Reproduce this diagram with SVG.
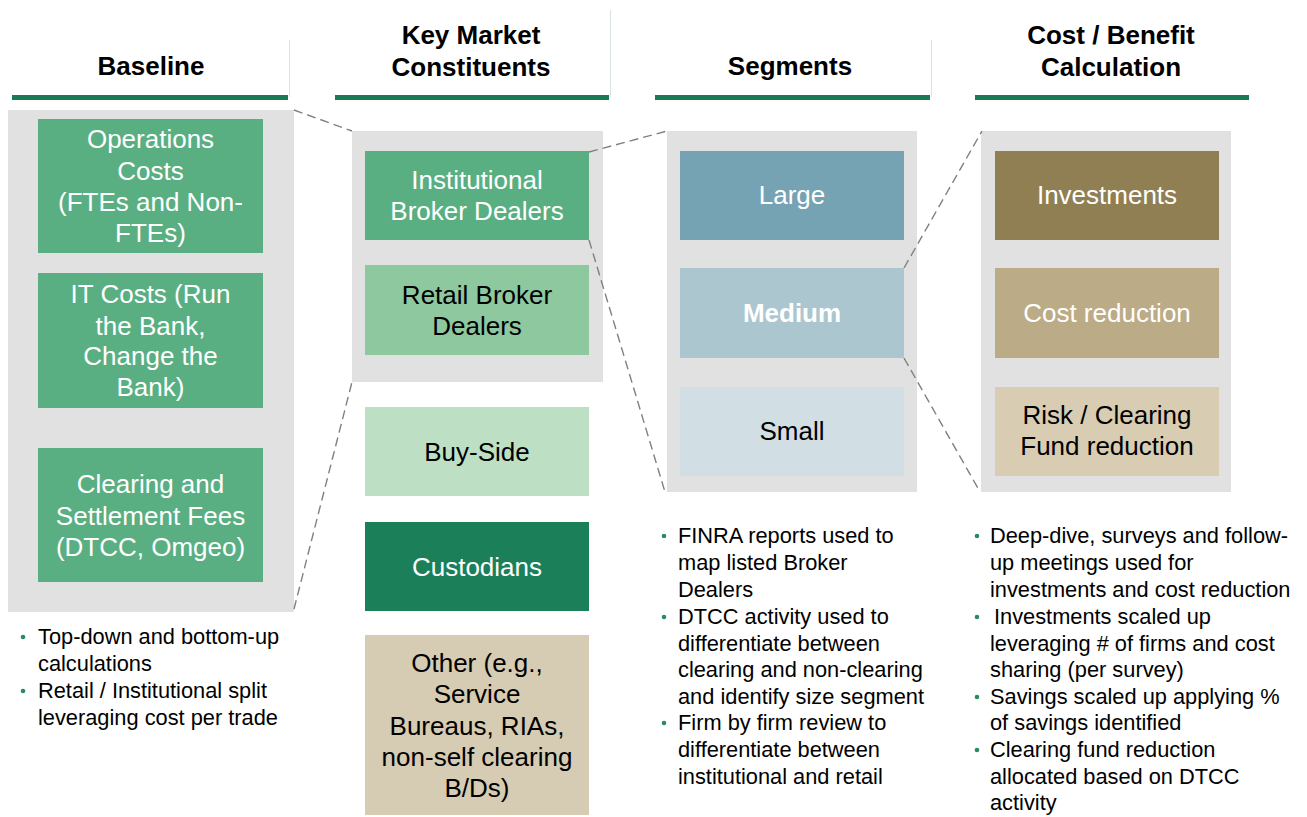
<svg xmlns="http://www.w3.org/2000/svg" width="1307" height="817" viewBox="0 0 1307 817">
<style>
.hd{font-family:"Liberation Sans",Arial,sans-serif;font-weight:bold;font-size:26px;fill:#000;text-anchor:middle}
.bx{font-family:"Liberation Sans",Arial,sans-serif;font-size:26px;fill:#fff;text-anchor:middle}
.dk{fill:#000}
.bd{font-weight:bold}
.bl{font-family:"Liberation Sans",Arial,sans-serif;font-size:21.8px;fill:#000}
.panel{fill:#e1e1e1}
.ul{fill:#1b7a56}
.vl{stroke:#d5e6e2;stroke-width:1}
.dash{stroke:#808080;stroke-width:1.4;stroke-dasharray:9 5;fill:none}
.dot{fill:#2a8a60}
</style>
<rect width="1307" height="817" fill="#fff"/>
<g id="headers">
<line class="vl" x1="289.5" y1="40" x2="289.5" y2="97"/>
<line class="vl" x1="610.5" y1="10" x2="610.5" y2="97"/>
<line class="vl" x1="931.5" y1="40" x2="931.5" y2="97"/>
<rect class="ul" x="12" y="95" width="276" height="5"/>
<rect class="ul" x="335" y="95" width="274" height="5"/>
<rect class="ul" x="655" y="95" width="275" height="5"/>
<rect class="ul" x="975" y="95" width="274" height="5"/>
<text class="hd" x="151" y="75">Baseline</text>
<text class="hd" x="471" y="44">Key Market</text>
<text class="hd" x="471" y="76">Constituents</text>
<text class="hd" x="790" y="75">Segments</text>
<text class="hd" x="1111" y="44">Cost / Benefit</text>
<text class="hd" x="1111" y="76">Calculation</text>
</g>
<g id="panels">
<rect class="panel" x="8" y="110" width="286" height="502"/>
<rect class="panel" x="352" y="131" width="251" height="251"/>
<rect class="panel" x="667" y="131" width="250" height="361"/>
<rect class="panel" x="981" y="131" width="250" height="361"/>
</g>
<g id="connectors">
<line class="dash" x1="294" y1="110" x2="352" y2="131"/>
<line class="dash" x1="294" y1="609" x2="352" y2="382"/>
<line class="dash" x1="589" y1="152" x2="667" y2="131"/>
<line class="dash" x1="589" y1="240" x2="665" y2="492"/>
<line class="dash" x1="904" y1="268" x2="982" y2="131"/>
<line class="dash" x1="904" y1="358" x2="979" y2="490"/>
</g>
<g id="ops">
<rect x="38" y="119" width="225" height="134" fill="#5aaf82"/>
<text class="bx" x="150.5" y="148">Operations</text>
<text class="bx" x="150.5" y="180">Costs</text>
<text class="bx" x="150.5" y="211">(FTEs and Non-</text>
<text class="bx" x="150.5" y="242">FTEs)</text>
</g>
<g id="it">
<rect x="38" y="273" width="225" height="135" fill="#5aaf82"/>
<text class="bx" x="150.5" y="303">IT Costs (Run</text>
<text class="bx" x="150.5" y="335">the Bank,</text>
<text class="bx" x="150.5" y="365">Change the</text>
<text class="bx" x="150.5" y="396">Bank)</text>
</g>
<g id="clearing">
<rect x="38" y="448" width="225" height="134" fill="#5aaf82"/>
<text class="bx" x="150.5" y="493">Clearing and</text>
<text class="bx" x="150.5" y="525">Settlement Fees</text>
<text class="bx" x="150.5" y="556">(DTCC, Omgeo)</text>
</g>
<g id="institutional">
<rect x="365" y="151" width="224" height="89" fill="#5aaf82"/>
<text class="bx" x="477" y="189">Institutional</text>
<text class="bx" x="477" y="220">Broker Dealers</text>
</g>
<g id="retail">
<rect x="365" y="265" width="224" height="90" fill="#8ec89f"/>
<text class="bx dk" x="477" y="304">Retail Broker</text>
<text class="bx dk" x="477" y="335">Dealers</text>
</g>
<g id="buyside">
<rect x="365" y="407" width="224" height="89" fill="#bde0c5"/>
<text class="bx dk" x="477" y="461">Buy-Side</text>
</g>
<g id="custodians">
<rect x="365" y="522" width="224" height="89" fill="#1b7f5a"/>
<text class="bx" x="477" y="576">Custodians</text>
</g>
<g id="other">
<rect x="365" y="635" width="224" height="180" fill="#d6cbb3"/>
<text class="bx dk" x="477" y="672">Other (e.g.,</text>
<text class="bx dk" x="477" y="703">Service</text>
<text class="bx dk" x="477" y="735">Bureaus, RIAs,</text>
<text class="bx dk" x="477" y="766">non-self clearing</text>
<text class="bx dk" x="477" y="797">B/Ds)</text>
</g>
<g id="large">
<rect x="680" y="151" width="224" height="89" fill="#76a3b3"/>
<text class="bx" x="792" y="204">Large</text>
</g>
<g id="medium">
<rect x="680" y="268" width="224" height="90" fill="#abc6cf"/>
<text class="bx bd" x="792" y="322">Medium</text>
</g>
<g id="small">
<rect x="680" y="387" width="224" height="89" fill="#d1dfe5"/>
<text class="bx dk" x="792" y="440">Small</text>
</g>
<g id="investments">
<rect x="995" y="151" width="224" height="89" fill="#8f7f52"/>
<text class="bx" x="1107" y="204">Investments</text>
</g>
<g id="costreduction">
<rect x="995" y="268" width="224" height="90" fill="#bbab86"/>
<text class="bx" x="1107" y="322">Cost reduction</text>
</g>
<g id="risk">
<rect x="995" y="387" width="224" height="89" fill="#d8ccb3"/>
<text class="bx dk" x="1107" y="424">Risk / Clearing</text>
<text class="bx dk" x="1107" y="455">Fund reduction</text>
</g>
<g id="baseline-notes">
<circle class="dot" cx="23" cy="637" r="2.3"/>
<circle class="dot" cx="23" cy="691" r="2.3"/>
<text class="bl" x="38" y="644">Top-down and bottom-up</text>
<text class="bl" x="38" y="671">calculations</text>
<text class="bl" x="38" y="698">Retail / Institutional split</text>
<text class="bl" x="38" y="725">leveraging cost per trade</text>
</g>
<g id="segments-notes">
<circle class="dot" cx="664" cy="536" r="2.3"/>
<circle class="dot" cx="664" cy="617" r="2.3"/>
<circle class="dot" cx="664" cy="723" r="2.3"/>
<text class="bl" x="678" y="543">FINRA reports used to</text>
<text class="bl" x="678" y="570">map listed Broker</text>
<text class="bl" x="678" y="597">Dealers</text>
<text class="bl" x="678" y="624">DTCC activity used to</text>
<text class="bl" x="678" y="651">differentiate between</text>
<text class="bl" x="678" y="677">clearing and non-clearing</text>
<text class="bl" x="678" y="704">and identify size segment</text>
<text class="bl" x="678" y="730">Firm by firm review to</text>
<text class="bl" x="678" y="757">differentiate between</text>
<text class="bl" x="678" y="784">institutional and retail</text>
</g>
<g id="cost-notes">
<circle class="dot" cx="977" cy="536" r="2.3"/>
<circle class="dot" cx="977" cy="617" r="2.3"/>
<circle class="dot" cx="977" cy="697" r="2.3"/>
<circle class="dot" cx="977" cy="750" r="2.3"/>
<text class="bl" x="990" y="543">Deep-dive, surveys and follow-</text>
<text class="bl" x="990" y="570">up meetings used for</text>
<text class="bl" x="990" y="597">investments and cost reduction</text>
<text class="bl" x="994" y="624">Investments scaled up</text>
<text class="bl" x="990" y="651">leveraging # of firms and  cost</text>
<text class="bl" x="990" y="677">sharing (per survey)</text>
<text class="bl" x="990" y="704">Savings scaled up applying %</text>
<text class="bl" x="990" y="730">of savings identified</text>
<text class="bl" x="990" y="757">Clearing fund reduction</text>
<text class="bl" x="990" y="784">allocated based on DTCC</text>
<text class="bl" x="990" y="810">activity</text>
</g>
</svg>
